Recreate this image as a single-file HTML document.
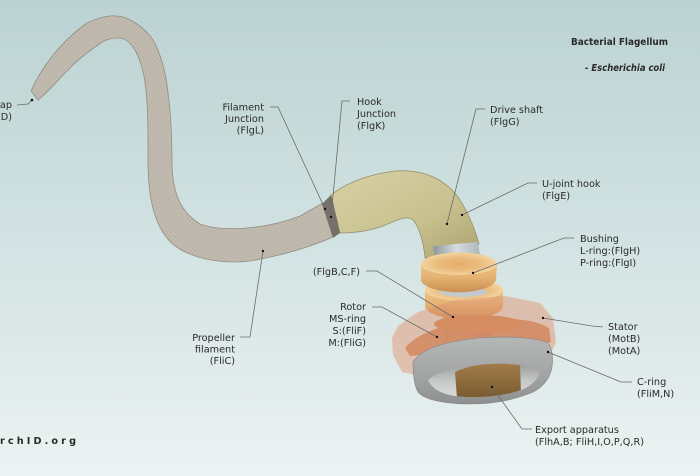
<!DOCTYPE html>
<html><head><meta charset="utf-8"><style>
html,body{margin:0;padding:0;background:#d3e2e2;}
svg{display:block;}
text{font-family:"DejaVu Sans","Liberation Sans",sans-serif;fill:#2a2a2a;font-size:9.7px;}
</style></head><body>
<svg width="700" height="476" viewBox="0 0 700 476" xmlns="http://www.w3.org/2000/svg">
<defs>
<linearGradient id="bg" x1="0" y1="0" x2="0" y2="1">
<stop offset="0" stop-color="#bcd2d2"/>
<stop offset="0.5" stop-color="#d2e2e2"/>
<stop offset="1" stop-color="#ecf2f2"/>
</linearGradient>
<pattern id="mesh" width="3" height="3" patternUnits="userSpaceOnUse" patternTransform="rotate(35)">
<rect width="3" height="3" fill="#c3bcb1"/>
<path d="M0,0 L3,0 M0,0 L0,3" stroke="#aaa398" stroke-width="0.5"/>
</pattern>
<linearGradient id="hookg" x1="0" y1="0" x2="1" y2="1">
<stop offset="0" stop-color="#d8d1a6"/>
<stop offset="0.6" stop-color="#c8c08e"/>
<stop offset="1" stop-color="#aba270"/>
</linearGradient>
<linearGradient id="shaftg" x1="0" y1="0" x2="1" y2="0">
<stop offset="0" stop-color="#8e969b"/>
<stop offset="0.4" stop-color="#d6dde0"/>
<stop offset="1" stop-color="#9aa2a7"/>
</linearGradient>
<linearGradient id="ringg" x1="0" y1="0" x2="0" y2="1">
<stop offset="0" stop-color="#f1cc93"/>
<stop offset="0.6" stop-color="#e6b474"/>
<stop offset="1" stop-color="#c98f4f"/>
</linearGradient>
<radialGradient id="ringtop" cx="0.5" cy="0.5" r="0.5">
<stop offset="0" stop-color="#e2ad6b"/>
<stop offset="0.6" stop-color="#ebbd80"/>
<stop offset="1" stop-color="#f3d39d"/>
</radialGradient>
<linearGradient id="cring" x1="0" y1="0" x2="0" y2="1">
<stop offset="0" stop-color="#b5b7b7"/>
<stop offset="0.6" stop-color="#a2a4a4"/>
<stop offset="1" stop-color="#8e9090"/>
</linearGradient>
<linearGradient id="cin" x1="0" y1="0" x2="0" y2="1">
<stop offset="0" stop-color="#9a9b9b"/>
<stop offset="0.5" stop-color="#c6c7c7"/>
<stop offset="1" stop-color="#dadbdb"/>
</linearGradient>
<linearGradient id="expg" x1="0" y1="0" x2="0" y2="1">
<stop offset="0" stop-color="#a27c4a"/>
<stop offset="0.45" stop-color="#8f6d3e"/>
<stop offset="1" stop-color="#765830"/>
</linearGradient>
<clipPath id="inner"><path d="M428,380 C440,370 460,366 490,364 C515,363 532,366 540,371 C538,380 530,388 515,392 C500,396 480,398 465,397 C445,396 432,390 428,380 Z"/></clipPath>
</defs>

<rect width="700" height="476" fill="url(#bg)"/>

<!-- filament -->
<path d="M31,91 C40,70 60,42 87,23 C100,17 110,15 117,16 C130,17 145,28 153,40 C160,52 166,72 168,93 C171,115 172,140 172,165 C173,190 178,210 200,224 C225,233 270,228 300,216 L323,203 L333,237 C310,247 280,256 250,261 C225,264 195,260 175,246 C155,230 148,200 148,160 C148,130 148,110 146,90 C144,72 140,57 133,47 C128,40 124,38 118,38 C110,38 104,40 98,45 C85,54 75,62 68,70 C58,80 48,92 38,100 Z" fill="url(#mesh)" stroke="#938c81" stroke-width="0.8"/>

<!-- hook -->
<path d="M331,195 C345,184 365,175 395,171 C425,169 448,180 462,203 C470,217 476,232 479,244 C470,256 445,261 425,258 C424,245 420,228 413,220 C405,214 395,222 380,227 C365,232 352,233 340,233 Z" fill="url(#hookg)" stroke="#938b63" stroke-width="0.7"/>
<!-- junction ring -->
<path d="M322,204 L331,195 L340,233 L333,238 Z" fill="#75716a"/>

<!-- shaft -->
<path d="M433,246 L478,242 L492,336 L446,340 Z" fill="url(#shaftg)"/>

<!-- ring 2 -->
<path d="M425,291 A39,11 0 0 1 503,291 L503,306 A39,13 0 0 1 425,306 Z" fill="url(#ringg)"/>
<ellipse cx="464" cy="290" rx="39" ry="11" fill="url(#ringtop)"/>
<ellipse cx="463" cy="292" rx="24" ry="5" fill="#c3cacd"/>
<!-- ring 1 -->
<path d="M421,265 A38,12 0 0 1 497,264 L496,280 A38,14 0 0 1 421,281 Z" fill="url(#ringg)"/>
<ellipse cx="459" cy="264" rx="38" ry="11" fill="url(#ringtop)"/>

<!-- MS ring / rotor -->
<path d="M405,348 C418,332 450,322 480,319 C510,317 537,320 549,328 L551,342 L410,356 Z" fill="#c4733d" opacity="0.8"/>
<ellipse cx="478" cy="324" rx="44" ry="9" fill="#cf8550"/>

<!-- stator (translucent) -->
<path d="M392,338 L398,326 L418,312 L455,300 L505,296 L540,303 L553,318 L556,342 L548,360 L500,378 L440,380 L402,372 L393,355 Z" fill="#df9673" opacity="0.5"/>

<!-- C-ring -->
<path d="M413,362 C420,350 440,342 478,338 C505,336 535,337 548,343 C553,350 553,360 552,367 C550,380 540,390 528,394 C510,401 490,404 470,404 C445,404 425,400 418,392 C414,385 413,375 413,362 Z" fill="url(#cring)" stroke="#808282" stroke-width="0.6"/>
<path d="M428,380 C440,370 460,366 490,364 C515,363 532,366 540,371 C538,380 530,388 515,392 C500,396 480,398 465,397 C445,396 432,390 428,380 Z" fill="url(#cin)"/>
<g clip-path="url(#inner)">
<path d="M455,372 C470,364 505,361 520,364 L521,394 C505,400 475,402 457,398 Z" fill="url(#expg)"/>
</g>

<!-- leader lines -->
<g fill="none" stroke="#6a6a6a" stroke-width="0.8">
<polyline points="17,105 28,104 32,100"/>
<polyline points="270,107 278,107 325,209"/>
<polyline points="350,101 342,101 331,217"/>
<polyline points="485,109 476,109 447,224"/>
<polyline points="537,183 528,183 462,215"/>
<polyline points="574,238 564,238 473,273"/>
<polyline points="366,271 377,271 453,317"/>
<polyline points="372,307 382,307 437,337"/>
<polyline points="603,327 592,326 543,318"/>
<polyline points="632,382 621,382 548,352"/>
<polyline points="532,429 522,429 492,387"/>
<polyline points="240,337 250,337 263,251"/>
</g>
<g fill="#111">
<circle cx="32" cy="100" r="1.3"/>
<circle cx="325" cy="209" r="1.2"/>
<circle cx="331" cy="217" r="1.2"/>
<circle cx="447" cy="224" r="1.2"/>
<circle cx="462" cy="215" r="1.2"/>
<circle cx="473" cy="273" r="1.2"/>
<circle cx="453" cy="317" r="1.2"/>
<circle cx="437" cy="337" r="1.2"/>
<circle cx="543" cy="318" r="1.2"/>
<circle cx="548" cy="352" r="1.2"/>
<circle cx="492" cy="387" r="1.2"/>
<circle cx="263" cy="251" r="1.2"/>
</g>

<!-- labels -->
<text x="571" y="45" font-weight="bold" font-size="9" textLength="97" lengthAdjust="spacingAndGlyphs">Bacterial Flagellum</text>
<text x="585" y="71" font-weight="bold" font-style="italic" font-size="8.5" textLength="80" lengthAdjust="spacingAndGlyphs">- Escherichia coli</text>

<text x="12" y="108" text-anchor="end">ap</text>
<text x="12" y="120" text-anchor="end">D)</text>

<g text-anchor="end">
<text x="264" y="110.5">Filament</text>
<text x="264" y="122">Junction</text>
<text x="264" y="133.5">(FlgL)</text>
</g>
<text x="357" y="105">Hook</text>
<text x="357" y="117">Junction</text>
<text x="357" y="129">(FlgK)</text>

<text x="490" y="113">Drive shaft</text>
<text x="490" y="125">(FlgG)</text>

<text x="542" y="187">U-joint hook</text>
<text x="542" y="199">(FlgE)</text>

<text x="580" y="242">Bushing</text>
<text x="580" y="254">L-ring:(FlgH)</text>
<text x="580" y="266">P-ring:(FlgI)</text>

<text x="360" y="275" text-anchor="end">(FlgB,C,F)</text>

<g text-anchor="end">
<text x="366" y="310">Rotor</text>
<text x="366" y="322">MS-ring</text>
<text x="366" y="334">S:(FliF)</text>
<text x="366" y="346">M:(FliG)</text>
</g>

<text x="608" y="330">Stator</text>
<text x="608" y="342">(MotB)</text>
<text x="608" y="354">(MotA)</text>

<text x="637" y="385">C-ring</text>
<text x="637" y="397">(FliM,N)</text>

<text x="535" y="433">Export apparatus</text>
<text x="535" y="445">(FlhA,B; FliH,I,O,P,Q,R)</text>

<g text-anchor="end">
<text x="235" y="341">Propeller</text>
<text x="235" y="352.5">filament</text>
<text x="235" y="364">(FliC)</text>
</g>

<text x="0" y="444" font-family="'DejaVu Sans Mono','Liberation Mono',monospace" font-size="9" font-weight="bold" textLength="76" lengthAdjust="spacing">rchID.org</text>
</svg>
</body></html>
